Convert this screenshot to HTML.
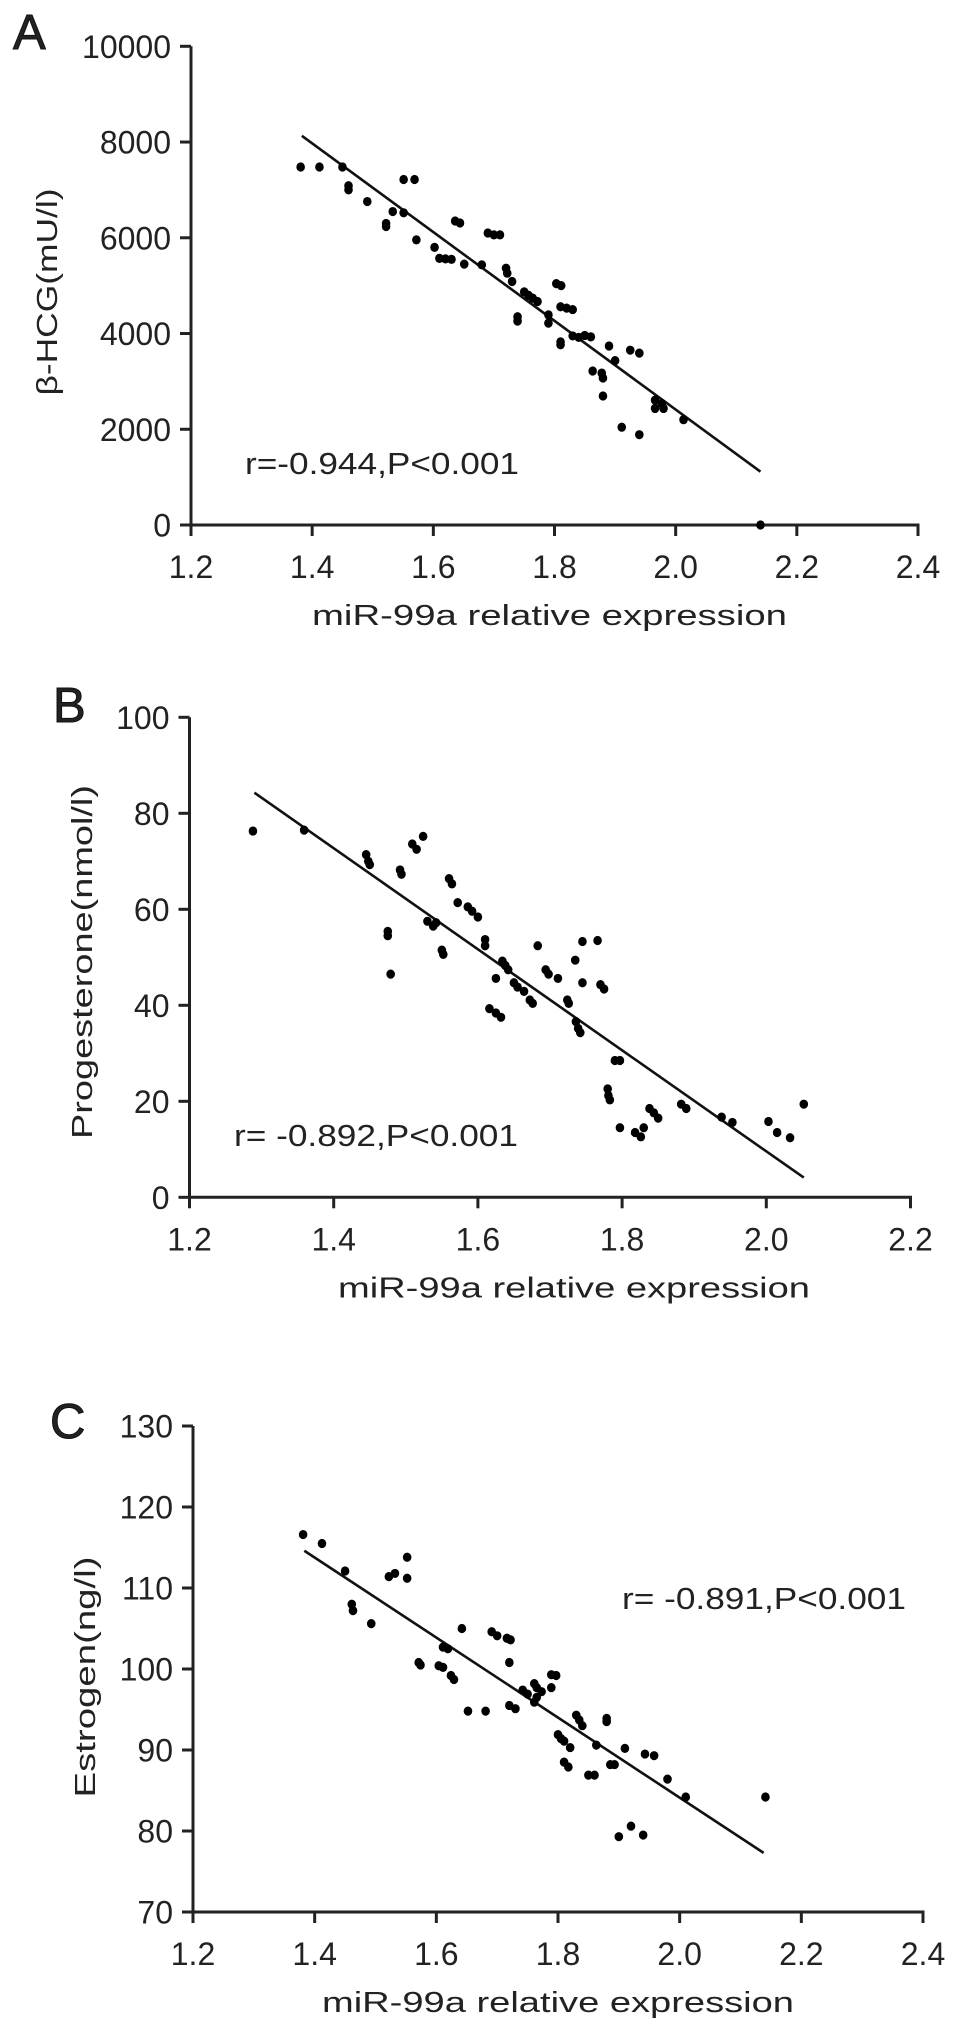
<!DOCTYPE html>
<html><head><meta charset="utf-8"><style>
html,body{margin:0;padding:0;background:#fff;}
svg{display:block;}
text{font-family:"Liberation Sans",Arial,sans-serif;fill:#222;}
</style></head>
<body>
<svg id="fig" width="969" height="2022" viewBox="0 0 969 2022" xmlns="http://www.w3.org/2000/svg"></svg>
<script>
// Panel A data
const aX = [1.381,1.412,1.45,1.46,1.46,1.491,1.522,1.522,1.533,1.551,1.551,1.569,1.572,1.602,1.61,1.62,1.63,1.636,1.644,1.651,1.68,1.69,1.70,1.71,1.72,1.722,1.73,1.739,1.739,1.75,1.757,1.764,1.772,1.79,1.79,1.803,1.811,1.81,1.82,1.83,1.81,1.81,1.83,1.84,1.85,1.86,1.863,1.878,1.88,1.88,1.89,1.90,1.911,1.925,1.94,1.94,1.966,1.966,1.98,1.977,2.013,2.14];
const aY = [7478,7478,7478,7087,7000,6757,6235,6300,6548,6522,7217,7217,5957,5800,5570,5560,5550,6350,6310,5450,5435,6100,6060,6060,5365,5260,5087,4260,4350,4870,4800,4740,4670,4390,4217,5043,5000,4560,4530,4500,3826,3765,3950,3920,3960,3930,3217,3174,3070,2696,3739,3435,2043,3652,3591,1887,2609,2435,2435,2535,2200,0];
const aFit = [[1.383,8130],[2.14,1113]];
const aXTicks = ["1.2","1.4","1.6","1.8","2.0","2.2","2.4"];
const aYTicks = ["0","2000","4000","6000","8000","10000"];
// Panel B data
const bX = [1.288,1.359,1.445,1.448,1.45,1.475,1.475,1.479,1.492,1.494,1.509,1.515,1.524,1.53,1.538,1.542,1.55,1.552,1.56,1.564,1.572,1.586,1.592,1.60,1.61,1.61,1.616,1.625,1.632,1.625,1.634,1.638,1.642,1.65,1.655,1.664,1.672,1.676,1.683,1.694,1.698,1.711,1.724,1.726,1.735,1.736,1.739,1.742,1.745,1.745,1.766,1.77,1.775,1.78,1.781,1.783,1.79,1.797,1.797,1.818,1.826,1.83,1.838,1.844,1.85,1.882,1.889,1.938,1.953,2.003,2.015,2.033,2.052];
const bY = [76.3,76.5,71.4,70,69.3,55.4,54.5,46.5,68.2,67.3,73.6,72.5,75.2,57.5,56.5,57.2,51.5,50.6,66.4,65.3,61.4,60.5,59.6,58.4,53.7,52.4,39.3,38.4,37.5,45.6,49.2,48.3,47.4,44.7,43.8,42.9,41.1,40.4,52.4,47.4,46.5,45.6,41.1,40.4,49.4,36.6,35.2,34.3,53.3,44.7,53.5,44.3,43.4,22.6,21.2,20.3,28.5,28.5,14.5,13.5,12.6,14.5,18.5,17.6,16.5,19.4,18.5,16.7,15.6,15.8,13.5,12.4,19.4];
const bFit = [[1.29,84.3],[2.052,4.1]];
const bXTicks = ["1.2","1.4","1.6","1.8","2.0","2.2"];
const bYTicks = ["0","20","40","60","80","100"];
// Panel C data
const cX = [1.381,1.412,1.45,1.461,1.463,1.493,1.522,1.532,1.552,1.552,1.571,1.574,1.604,1.611,1.611,1.619,1.624,1.629,1.642,1.652,1.681,1.691,1.70,1.716,1.722,1.72,1.72,1.73,1.742,1.75,1.761,1.765,1.761,1.765,1.773,1.789,1.797,1.789,1.80,1.805,1.81,1.82,1.81,1.817,1.83,1.835,1.84,1.85,1.86,1.863,1.88,1.88,1.886,1.893,1.91,1.90,1.92,1.94,1.943,1.958,1.98,2.01,2.141];
const cY = [116.6,115.5,112.1,108,107.2,105.6,111.4,111.8,113.8,111.2,100.8,100.5,100.4,100.2,102.7,102.5,99.2,98.7,105,94.8,94.8,104.6,104.1,103.8,103.6,100.8,95.5,95.1,97.4,96.9,98.2,97.7,95.9,96.5,97.2,99.3,99.2,97.7,91.9,91.4,91.1,90.3,88.5,87.9,94.3,93.7,93,86.9,86.9,90.6,93.9,93.5,88.2,88.2,90.2,79.3,80.6,79.5,89.5,89.3,86.4,84.2,84.2];
const cFit = [[1.383,114.6],[2.138,77.3]];
const cXTicks = ["1.2","1.4","1.6","1.8","2.0","2.2","2.4"];
const cYTicks = ["70","80","90","100","110","120","130"];

const NS = "http://www.w3.org/2000/svg";
const svg = document.getElementById('fig');
function mk(tag, attrs, parent){
  const e = document.createElementNS(NS, tag);
  for (const k in attrs) e.setAttribute(k, attrs[k]);
  (parent||svg).appendChild(e);
  return e;
}
function panel(cfg){
  const g = mk('g', {});
  
  
  const xmin = parseFloat(cfg.xt[0]), xmax = parseFloat(cfg.xt[cfg.xt.length-1]);
  const ymin = parseFloat(cfg.yt[0]), ymax = parseFloat(cfg.yt[cfg.yt.length-1]);
  const sx = v => cfg.x0 + (v - xmin) / (xmax - xmin) * (cfg.x1 - cfg.x0);
  const sy = v => cfg.y0 - (v - ymin) / (ymax - ymin) * (cfg.y0 - cfg.y1);
  const ya = mk('line', {x1:cfg.x0, y1:cfg.y1, x2:cfg.x0, y2:cfg.y0+1.5, stroke:'#222','stroke-width':3}, g);
  
  
  const xa = mk('line', {x1:cfg.x0-1.5, y1:cfg.y0, x2:cfg.x1+1.5, y2:cfg.y0, stroke:'#222','stroke-width':3}, g);
  
  
  cfg.yt.forEach(t => {
    const y = sy(parseFloat(t));
    mk('line', {x1:cfg.x0-11, y1:y, x2:cfg.x0, y2:y, stroke:'#222','stroke-width':3}, g);
    const tx = mk('text', {x:cfg.x0-20, y:y+11.5, 'font-size':32, 'text-anchor':'end'}, g);
    tx.textContent = t;
    
    
  });
  cfg.xt.forEach(t => {
    const x = sx(parseFloat(t));
    mk('line', {x1:x, y1:cfg.y0, x2:x, y2:cfg.y0+11, stroke:'#222','stroke-width':3}, g);
    const tx = mk('text', {x:x, y:cfg.y0+53, 'font-size':32, 'text-anchor':'middle'}, g);
    tx.textContent = t;
    
    
  });
  const fl = mk('line', {x1:sx(cfg.fit[0][0]), y1:sy(cfg.fit[0][1]), x2:sx(cfg.fit[1][0]), y2:sy(cfg.fit[1][1]), stroke:'#111','stroke-width':2.6}, g);
  
  
  cfg.xs.forEach((v, i) => {
    const c = mk('ellipse', {cx:sx(v), cy:sy(cfg.ys[i]), rx:4.3, ry:4.6, fill:'#000'}, g);
    
    
  });
  const L = mk('text', {x:cfg.lx, y:cfg.ly, 'font-size':49, stroke:'#111', 'stroke-width':1}, g);
  L.textContent = cfg.letter;
  
  
  const xt = mk('text', {x:cfg.xtx, y:cfg.y0+100, 'font-size':29, textLength:cfg.xtl, lengthAdjust:'spacingAndGlyphs'}, g);
  xt.textContent = 'miR-99a relative expression';
  
  
  const yt = mk('text', {x:0, y:0, 'font-size':29, 'text-anchor':'middle', textLength:cfg.ytl, lengthAdjust:'spacingAndGlyphs', transform:'translate('+cfg.ytx+','+cfg.yty+') rotate(-90)'}, g);
  yt.textContent = cfg.ytitle;
  
  
  const st = mk('text', {x:cfg.stx, y:cfg.sty, 'font-size':31, textLength:cfg.stl, lengthAdjust:'spacingAndGlyphs'}, g);
  st.textContent = cfg.stat;
  
  
}
panel({name:'panel-a', letter:'A', lx:13, ly:49, x0:191, x1:918, y0:525, y1:46.3, xt:aXTicks, yt:aYTicks, xs:aX, ys:aY, fit:aFit,
  xtx:312, xtl:475, ytitle:'β-HCG(mU/l)', ytx:57, yty:292, ytl:207, stat:'r=-0.944,P<0.001', stx:245, sty:474, stl:274});
panel({name:'panel-b', letter:'B', lx:53, ly:722, x0:189.5, x1:910.5, y0:1197.3, y1:717.3, xt:bXTicks, yt:bYTicks, xs:bX, ys:bY, fit:bFit,
  xtx:338, xtl:472, ytitle:'Progesterone(nmol/l)', ytx:92, yty:962, ytl:354, stat:'r= -0.892,P<0.001', stx:234, sty:1146, stl:284});
panel({name:'panel-c', letter:'C', lx:50, ly:1438, x0:193, x1:923, y0:1912, y1:1426, xt:cXTicks, yt:cYTicks, xs:cX, ys:cY, fit:cFit,
  xtx:322, xtl:472, ytitle:'Estrogen(ng/l)', ytx:95, yty:1677, ytl:241, stat:'r= -0.891,P<0.001', stx:622, sty:1609, stl:284});
</script>
</body></html>
